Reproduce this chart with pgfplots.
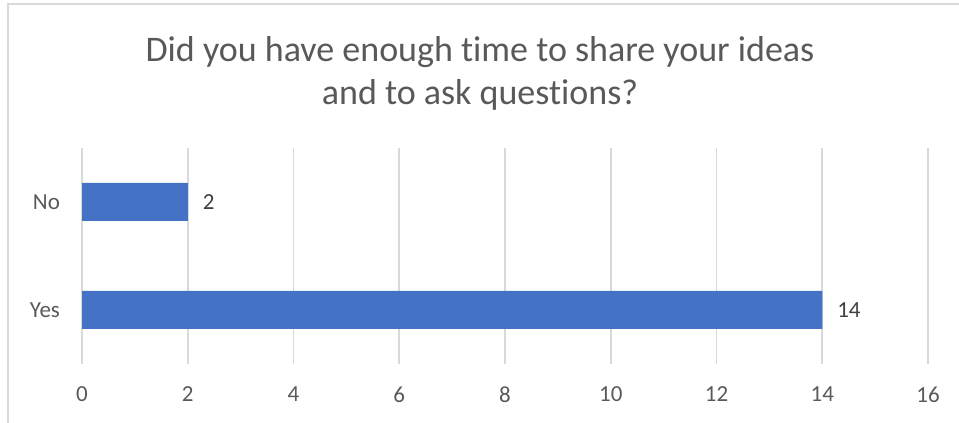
\documentclass[border=0pt]{standalone}
\usepackage{pgfplots}
\pgfplotsset{compat=1.18}
\usepackage{fontspec}
\setmainfont{Carlito}[Ligatures={NoCommon}]
\definecolor{barblue}{HTML}{4472C4}
\definecolor{gridgray}{HTML}{D9D9D9}
\definecolor{txtgray}{HTML}{595959}
\definecolor{lblgray}{HTML}{404040}
\begin{document}
\begin{tikzpicture}
\path[use as bounding box] (0,0) rectangle (479.5pt,211.5pt);
\draw[gridgray, line width=0.7pt] (4pt,0) -- (4pt,209.5pt) -- (479.5pt,209.5pt);
\node[text=txtgray, font=\fontsize{18pt}{21.6pt}\selectfont, align=center, anchor=base] at (240pt,159pt)
  {Did you have enough time to share your ideas\\and to ask questions?};
\begin{axis}[
  at={(41pt,29.5pt)}, anchor=south west,
  scale only axis, width=423pt, height=108pt,
  xbar, bar width=19pt,
  xmin=0, xmax=16, ymin=-0.5, ymax=1.5,
  xtick={0,2,...,16},
  ytick={0,1}, yticklabels={Yes,No},
  xmajorgrids, major grid style={gridgray, line width=0.8pt},
  axis line style={draw=none}, major tick length=0pt,
  tick label style={text=txtgray, font=\fontsize{11.5pt}{13pt}\selectfont},
  /pgf/number format/assume math mode=true,
  xticklabel style={yshift=-8pt},
  yticklabel style={xshift=-7.5pt},
  nodes near coords,
  every node near coord/.append style={text=lblgray, font=\fontsize{11.5pt}{13pt}\selectfont, xshift=4pt},
]
\addplot[fill=barblue, draw=none] coordinates {(14,0) (2,1)};
\end{axis}
\end{tikzpicture}
\end{document}
